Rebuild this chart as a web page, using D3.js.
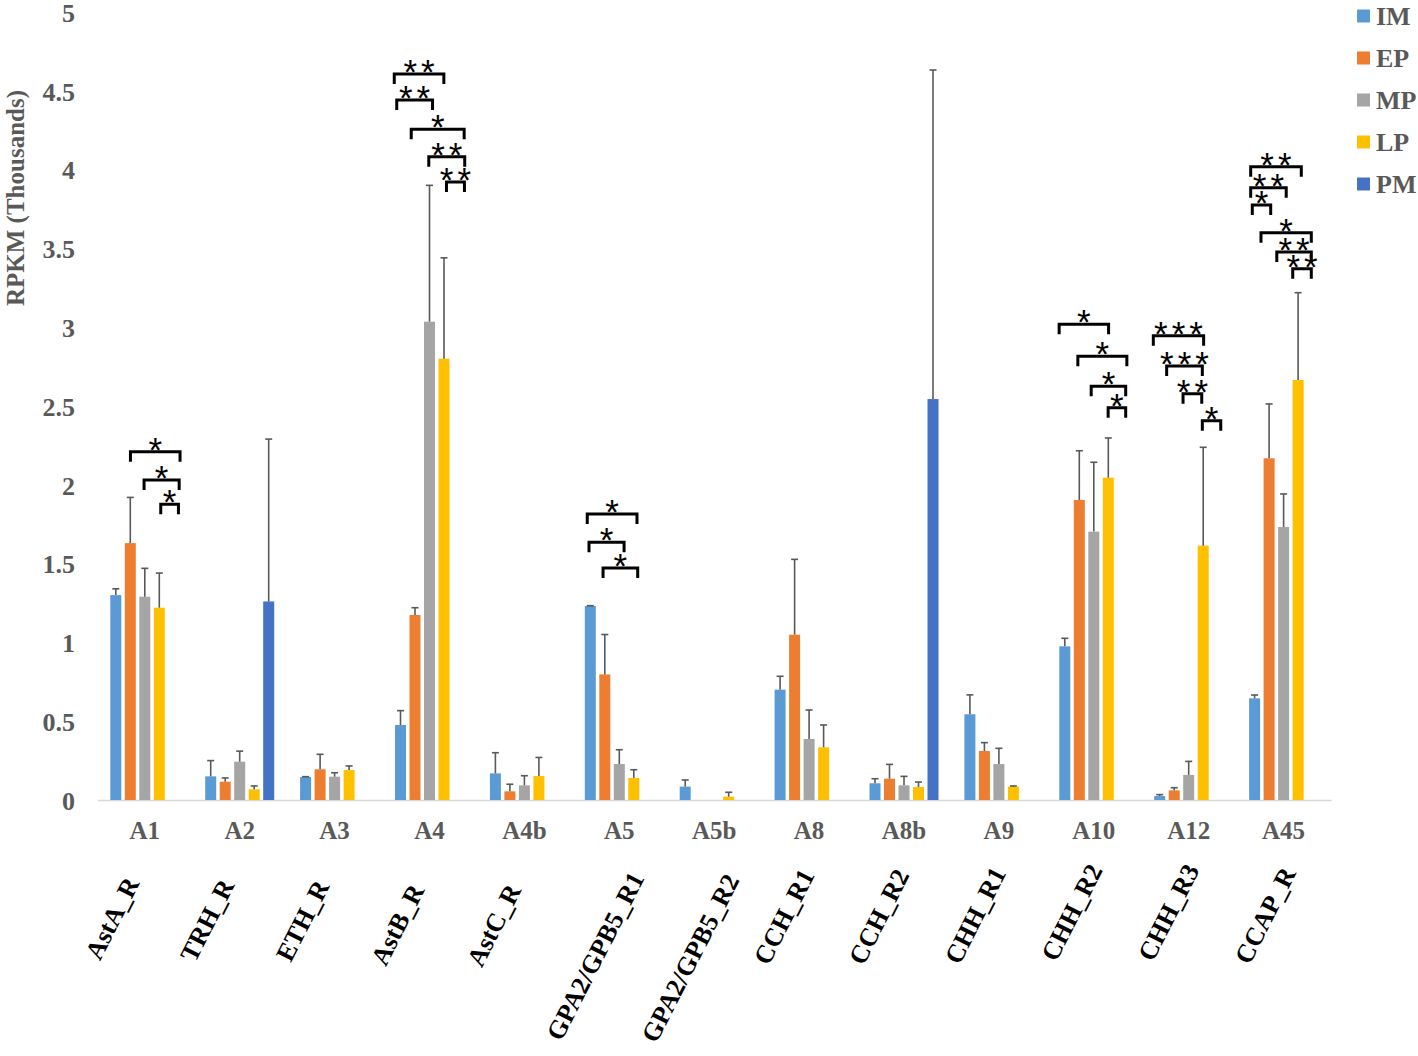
<!DOCTYPE html>
<html>
<head>
<meta charset="utf-8">
<script src="https://cdn.jsdelivr.net/npm/d3@7"></script>
<style>
  html, body { margin: 0; padding: 0; background: #fff; }
  svg { display: block; }
</style>
</head>
<body>
<svg id="chart" width="1418" height="1056"></svg>
<script>
// ---------- data ----------
const categories = ["A1","A2","A3","A4","A4b","A5","A5b","A8","A8b","A9","A10","A12","A45"];
const receptors = ["AstA_R","TRH_R","ETH_R","AstB_R","AstC_R","GPA2/GPB5_R1","GPA2/GPB5_R2","CCH_R1","CCH_R2","CHH_R1","CHH_R2","CHH_R3","CCAP_R"];
const series = ["IM","EP","MP","LP","PM"];

const IM    = [1.30, 0.15, 0.146, 0.476, 0.169, 1.231, 0.085, 0.70, 0.106, 0.544, 0.975, 0.025, 0.645];
const IM_sd = [0.04, 0.10, 0.002, 0.091, 0.131, 0.002, 0.042, 0.085, 0.029, 0.123, 0.051, 0.009, 0.021];
const EP    = [1.63, 0.116, 0.195, 1.174, 0.055, 0.797, null, 1.049, 0.135, 0.311, 1.904, 0.061, 2.168];
const EP_sd = [0.29, 0.024, 0.095, 0.046, 0.045, 0.253, null, 0.478, 0.091, 0.053, 0.312, 0.017, 0.345];
const MP    = [1.29, 0.243, 0.148, 3.035, 0.093, 0.228, null, 0.387, 0.093, 0.228, 1.703, 0.159, 1.732];
const MP_sd = [0.18, 0.067, 0.025, 0.865, 0.061, 0.091, null, 0.184, 0.057, 0.10, 0.44, 0.086, 0.21];
const LP    = [1.22, 0.068, 0.19, 2.80, 0.152, 0.14, 0.021, 0.334, 0.082, 0.085, 2.045, 1.614, 2.665];
const LP_sd = [0.22, 0.021, 0.026, 0.64, 0.118, 0.052, 0.028, 0.142, 0.032, 0.004, 0.252, 0.624, 0.554];
const PM    = [null, 1.26, null, null, null, null, null, null, 2.544, null, null, null, null];
const PM_sd = [null, 1.03, null, null, null, null, null, null, 2.088, null, null, null, null];

const yTickLabels = ["0","0.5","1","1.5","2","2.5","3","3.5","4","4.5","5"];

// significance brackets: [category index, from series pos, to series pos, level (thousands), stars]
const brackets = [
  [0, 1.01, 4.43, 2.21, "*"], [0, 1.95, 4.37, 2.03, "*"], [0, 3.1, 4.32, 1.876, "*"],
  [3, -0.43, 2.99, 4.607, "**"], [3, -0.26, 2.21, 4.442, "**"], [3, 0.74, 4.39, 4.256, "*"],
  [3, 1.95, 4.43, 4.082, "**"], [3, 3.17, 4.41, 3.921, "**"],
  [5, -0.21, 3.22, 1.815, "*"], [5, -0.09, 2.33, 1.635, "*"], [5, 0.88, 3.27, 1.472, "*"],
  [10, -0.39, 3.02, 3.018, "*"], [10, 0.90, 4.28, 2.815, "*"], [10, 1.82, 4.2, 2.625, "*"], [10, 2.99, 4.2, 2.489, "*"],
  [11, -0.44, 3.03, 2.946, "***"], [11, 0.48, 2.94, 2.754, "***"], [11, 1.61, 2.9, 2.578, "**"], [11, 2.94, 4.21, 2.407, "*"],
  [12, -0.27, 3.22, 4.018, "**"], [12, -0.27, 2.18, 3.885, "**"], [12, -0.16, 1.11, 3.775, "*"],
  [12, 0.44, 3.91, 3.60, "*"], [12, 1.53, 3.91, 3.477, "**"], [12, 2.63, 3.91, 3.371, "**"]
];

// ---------- layout ----------
const colors = {IM: "#5B9BD5", EP: "#ED7D31", MP: "#A5A5A5", LP: "#FFC000", PM: "#4472C4"};
const labelDx = [-4.8,-4.7,-4.6,-4.5,-2.7,25.7,25.8,6,6,7.7,9.4,11.2,13];
const labelY  = [883,885,886,890,890,878,880,875,875,873,870,870,873];
const serif = "'Liberation Serif','Times New Roman',serif";
const starSpacing = 4;

const values = {IM, EP, MP, LP, PM};
const sds = {IM: IM_sd, EP: EP_sd, MP: MP_sd, LP: LP_sd, PM: PM_sd};

const svg = d3.select("#chart");

const x0 = d3.scaleBand().domain(categories).range([97.35, 1331.05]).padding(0);
const x1 = d3.scaleBand().domain(series).range([0, x0.bandwidth()]).paddingInner(0.241).paddingOuter(0.893);
const y = d3.scaleLinear().domain([0, 5]).range([800, 12]);
const bw = x1.bandwidth();
const pos = d3.scaleLinear().domain([0, 4]).range([x1(series[0]) + bw / 2, x1(series[4]) + bw / 2]);

// y axis
const yAxis = d3.axisLeft(y)
  .tickValues(yTickLabels.map(Number))
  .tickFormat((d, i) => yTickLabels[i])
  .tickSize(0).tickPadding(3);
const gy = svg.append("g").attr("transform", "translate(78,1)").call(yAxis);
gy.select(".domain").remove();
gy.selectAll("text")
  .attr("font-family", serif).attr("font-weight", "bold")
  .attr("font-size", 26).attr("fill", "#595959");

// y label
svg.append("text")
  .attr("transform", "translate(24,198) rotate(-90)")
  .attr("text-anchor", "middle")
  .attr("font-family", serif).attr("font-weight", "bold")
  .attr("font-size", 25).attr("fill", "#595959")
  .text("RPKM (Thousands)");

// x axis
const xAxis = d3.axisBottom(x0).tickSize(0).tickPadding(21);
const gx = svg.append("g").attr("transform", "translate(0,800)").call(xAxis);
gx.select(".domain").attr("stroke", "#D9D9D9").attr("stroke-width", 1.5);
gx.selectAll("text")
  .attr("font-family", serif).attr("font-weight", "bold")
  .attr("font-size", 25).attr("fill", "#595959");

// bars
const rows = [];
categories.forEach((c, i) => {
  series.forEach(s => {
    const v = values[s][i];
    if (v !== null && v !== undefined) rows.push({c, s, v, sd: sds[s][i]});
  });
});

const bars = svg.append("g");
bars.selectAll("rect").data(rows).join("rect")
  .attr("x", d => x0(d.c) + x1(d.s))
  .attr("y", d => y(d.v))
  .attr("width", bw)
  .attr("height", d => y(0) - y(d.v))
  .attr("fill", d => colors[d.s]);

// error bars (plus only)
const eb = svg.append("g").attr("stroke", "#595959").attr("stroke-width", 1.6);
rows.filter(d => d.sd !== null && d.sd !== undefined).forEach(d => {
  const cx = x0(d.c) + x1(d.s) + bw / 2;
  eb.append("line").attr("x1", cx).attr("x2", cx).attr("y1", y(d.v)).attr("y2", y(d.v + d.sd));
  eb.append("line").attr("x1", cx - 3.5).attr("x2", cx + 3.5).attr("y1", y(d.v + d.sd)).attr("y2", y(d.v + d.sd));
});

// significance brackets
const br = svg.append("g");
brackets.forEach(([ci, a, b, lvl, stars]) => {
  const base = x0(categories[ci]);
  const xa = base + pos(a), xb = base + pos(b), yy = y(lvl);
  br.append("path")
    .attr("d", `M${xa},${yy + 10}V${yy}H${xb}V${yy + 10}`)
    .attr("fill", "none").attr("stroke", "#000").attr("stroke-width", 3);
  br.append("text")
    .attr("x", (xa + xb) / 2 + starSpacing / 2)
    .attr("y", yy + 10)
    .attr("text-anchor", "middle")
    .attr("font-family", "'Liberation Sans',Arial,sans-serif")
    .attr("font-size", 35)
    .attr("letter-spacing", starSpacing)
    .attr("fill", "#000")
    .text(stars);
});

// rotated receptor labels
const rl = svg.append("g");
categories.forEach((c, i) => {
  const cx = x0(c) + x0.bandwidth() / 2 + labelDx[i];
  rl.append("text")
    .attr("transform", `translate(${cx},${labelY[i]}) rotate(-63)`)
    .attr("text-anchor", "end")
    .attr("font-family", serif).attr("font-weight", "bold")
    .attr("font-size", 26).attr("fill", "#000")
    .text(receptors[i]);
});

// legend
const lg = svg.append("g");
series.forEach((s, i) => {
  const cy = 16 + i * 42;
  lg.append("rect").attr("x", 1357).attr("y", cy - 6.5).attr("width", 13).attr("height", 13).attr("fill", colors[s]);
  lg.append("text").attr("x", 1376).attr("y", cy).attr("dy", "0.33em")
    .attr("font-family", serif).attr("font-weight", "bold")
    .attr("font-size", 26).attr("fill", "#595959").text(s);
});
</script>
</body>
</html>
